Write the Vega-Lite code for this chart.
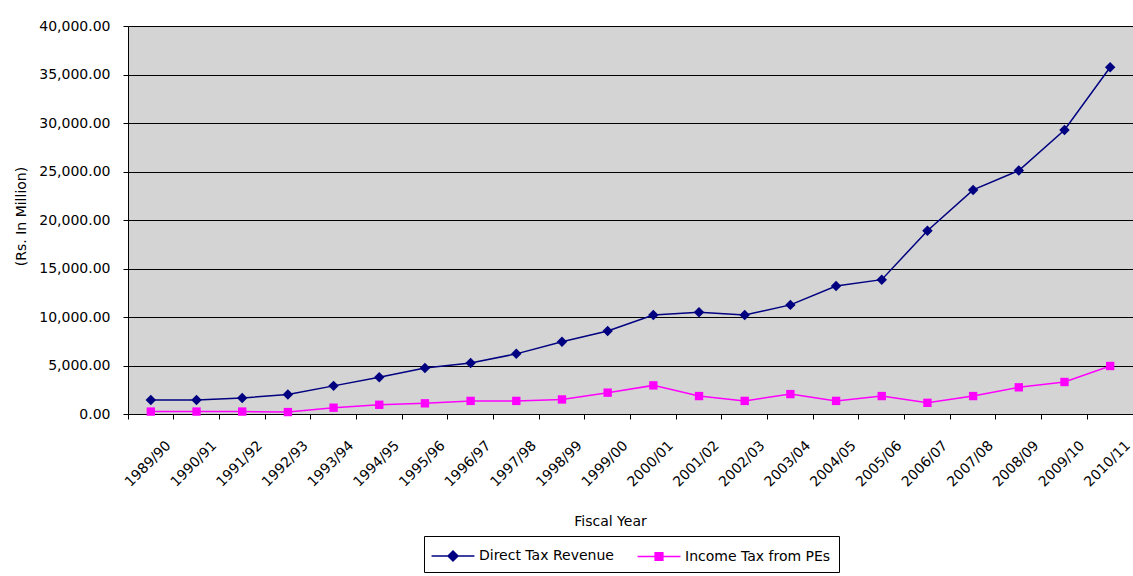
{
  "$schema": "https://vega.github.io/schema/vega-lite/v6.json",
  "width": 1005,
  "height": 388,
  "autosize": {"type": "none"},
  "padding": {"left": 128, "top": 26, "right": 0, "bottom": 162},
  "background": "white",
  "config": {
    "view": {"fill": "#d4d4d4", "stroke": null},
    "font": "DejaVu Sans"
  },
  "data": {
    "values": [
      {"year": "1989/90", "series": "Direct Tax Revenue", "value": 1450},
      {"year": "1990/91", "series": "Direct Tax Revenue", "value": 1450},
      {"year": "1991/92", "series": "Direct Tax Revenue", "value": 1650},
      {"year": "1992/93", "series": "Direct Tax Revenue", "value": 2000},
      {"year": "1993/94", "series": "Direct Tax Revenue", "value": 2900},
      {"year": "1994/95", "series": "Direct Tax Revenue", "value": 3800},
      {"year": "1995/96", "series": "Direct Tax Revenue", "value": 4750},
      {"year": "1996/97", "series": "Direct Tax Revenue", "value": 5250},
      {"year": "1997/98", "series": "Direct Tax Revenue", "value": 6200},
      {"year": "1998/99", "series": "Direct Tax Revenue", "value": 7450},
      {"year": "1999/00", "series": "Direct Tax Revenue", "value": 8550},
      {"year": "2000/01", "series": "Direct Tax Revenue", "value": 10200},
      {"year": "2001/02", "series": "Direct Tax Revenue", "value": 10500},
      {"year": "2002/03", "series": "Direct Tax Revenue", "value": 10200},
      {"year": "2003/04", "series": "Direct Tax Revenue", "value": 11250},
      {"year": "2004/05", "series": "Direct Tax Revenue", "value": 13200},
      {"year": "2005/06", "series": "Direct Tax Revenue", "value": 13850},
      {"year": "2006/07", "series": "Direct Tax Revenue", "value": 18900},
      {"year": "2007/08", "series": "Direct Tax Revenue", "value": 23100},
      {"year": "2008/09", "series": "Direct Tax Revenue", "value": 25100},
      {"year": "2009/10", "series": "Direct Tax Revenue", "value": 29280},
      {"year": "2010/11", "series": "Direct Tax Revenue", "value": 35750},
      {"year": "1989/90", "series": "Income Tax from PEs", "value": 250},
      {"year": "1990/91", "series": "Income Tax from PEs", "value": 250},
      {"year": "1991/92", "series": "Income Tax from PEs", "value": 250},
      {"year": "1992/93", "series": "Income Tax from PEs", "value": 200},
      {"year": "1993/94", "series": "Income Tax from PEs", "value": 650},
      {"year": "1994/95", "series": "Income Tax from PEs", "value": 950},
      {"year": "1995/96", "series": "Income Tax from PEs", "value": 1100},
      {"year": "1996/97", "series": "Income Tax from PEs", "value": 1350},
      {"year": "1997/98", "series": "Income Tax from PEs", "value": 1350},
      {"year": "1998/99", "series": "Income Tax from PEs", "value": 1500},
      {"year": "1999/00", "series": "Income Tax from PEs", "value": 2200},
      {"year": "2000/01", "series": "Income Tax from PEs", "value": 2950},
      {"year": "2001/02", "series": "Income Tax from PEs", "value": 1850},
      {"year": "2002/03", "series": "Income Tax from PEs", "value": 1350},
      {"year": "2003/04", "series": "Income Tax from PEs", "value": 2050},
      {"year": "2004/05", "series": "Income Tax from PEs", "value": 1350},
      {"year": "2005/06", "series": "Income Tax from PEs", "value": 1850},
      {"year": "2006/07", "series": "Income Tax from PEs", "value": 1150},
      {"year": "2007/08", "series": "Income Tax from PEs", "value": 1850},
      {"year": "2008/09", "series": "Income Tax from PEs", "value": 2750},
      {"year": "2009/10", "series": "Income Tax from PEs", "value": 3300},
      {"year": "2010/11", "series": "Income Tax from PEs", "value": 4950}
    ]
  },
  "encoding": {
    "x": {
      "field": "year",
      "type": "ordinal",
      "sort": null,
      "scale": {"type": "band", "paddingInner": 0, "paddingOuter": 0},
      "axis": {
        "title": "Fiscal Year",
        "titleFont": "DejaVu Sans",
        "titleFontSize": 14,
        "titleFontWeight": "normal",
        "titleColor": "black",
        "titleX": 482,
        "titleY": 107,
        "titleAlign": "center",
        "titleBaseline": "middle",
        "bandPosition": 0,
        "domainColor": "black",
        "domainWidth": 1,
        "tickColor": "black",
        "tickSize": 5,
        "tickWidth": 1,
        "labelAngle": -45,
        "labelAlign": "right",
        "labelBaseline": "middle",
        "labelOffset": 18,
        "labelPadding": 24,
        "labelFont": "DejaVu Sans",
        "labelFontSize": 14,
        "labelColor": "black",
        "grid": false
      }
    },
    "y": {
      "field": "value",
      "type": "quantitative",
      "scale": {"domain": [0, 40000], "nice": false},
      "axis": {
        "title": "(Rs. In Million)",
        "titleFont": "DejaVu Sans",
        "titleFontSize": 14,
        "titleFontWeight": "normal",
        "titleColor": "black",
        "titleAngle": -90,
        "titleX": -107,
        "titleY": 190,
        "titleAlign": "center",
        "titleBaseline": "middle",
        "values": [0, 5000, 10000, 15000, 20000, 25000, 30000, 35000, 40000],
        "format": ",.2f",
        "domainColor": "black",
        "tickColor": "black",
        "tickSize": 5,
        "labelPadding": 13,
        "labelFont": "DejaVu Sans",
        "labelFontSize": 14,
        "labelColor": "black",
        "grid": true,
        "gridColor": "black",
        "gridWidth": 1,
        "gridOpacity": 1
      }
    },
    "color": {
      "field": "series",
      "type": "nominal",
      "scale": {
        "domain": ["Direct Tax Revenue", "Income Tax from PEs"],
        "range": ["#000080", "#FF00FF"]
      },
      "legend": {
        "title": null,
        "orient": "none",
        "direction": "horizontal",
        "legendX": 296,
        "legendY": 510,
        "strokeColor": "black",
        "fillColor": "white",
        "padding": 8,
        "symbolSize": 484,
        "symbolOffset": 9,
        "labelOffset": 14,
        "columnPadding": 20,
        "labelFont": "DejaVu Sans",
        "labelFontSize": 14,
        "labelColor": "black",
        "encode": {
          "symbols": {
            "update": {
              "shape": {"signal": "datum.value === 'Direct Tax Revenue' ? 'M-1.95,0H1.95M0,-0.45L0.45,0L0,0.45L-0.45,0Z' : 'M-1.95,0H1.95M-0.35,-0.35H0.35V0.35H-0.35Z'"},
              "size": {"value": 484},
              "stroke": {"scale": "color", "field": "value"},
              "fill": {"scale": "color", "field": "value"},
              "strokeWidth": {"value": 1.5},
              "opacity": {"value": 1}
            }
          }
        }
      }
    }
  },
  "layer": [
    {
      "mark": {"type": "line", "strokeWidth": 1.5}
    },
    {
      "transform": [{"filter": "datum.series === 'Direct Tax Revenue'"}],
      "mark": {"type": "point", "filled": true, "opacity": 1, "shape": "diamond", "size": 110}
    },
    {
      "transform": [{"filter": "datum.series === 'Income Tax from PEs'"}],
      "mark": {"type": "point", "filled": true, "opacity": 1, "shape": "square", "size": 70}
    }
  ]
}
